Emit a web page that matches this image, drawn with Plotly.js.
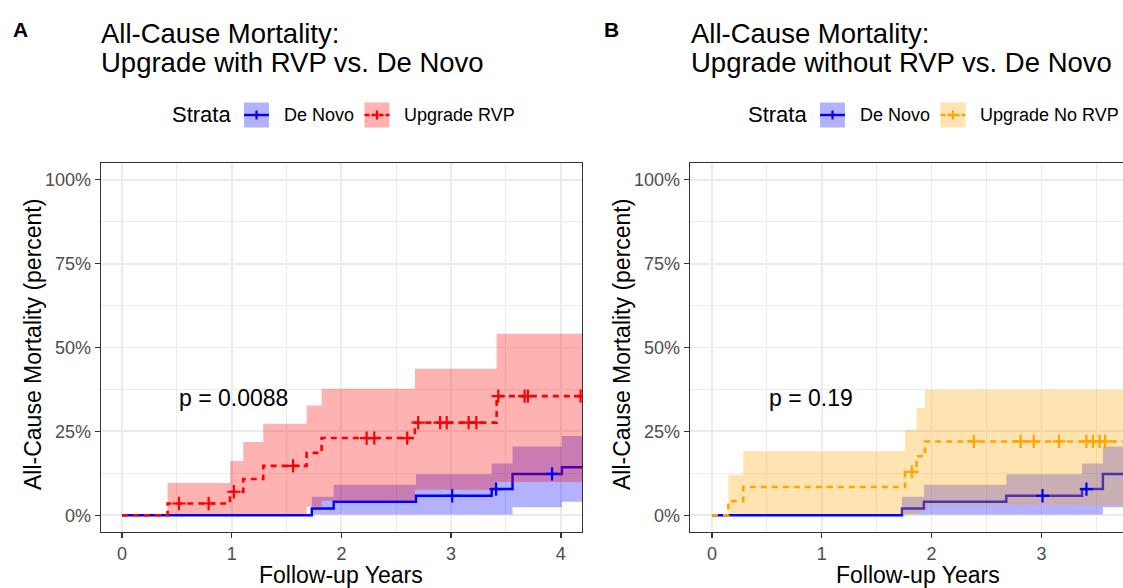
<!DOCTYPE html>
<html><head><meta charset="utf-8">
<script src="https://cdn.plot.ly/plotly-3.0.1.min.js"></script>
<style>html,body{margin:0;padding:0;overflow:hidden;background:#fff}</style>
</head><body><div id="chart" style="width:1123px;height:588px"></div>
<script>
// ---------- data ----------
// De Novo (same group in both panels)
const deNovoTime  = [0, 1.73, 1.93, 2.68, 3.37, 3.56, 4.01, 4.35];
const deNovoEst   = [0, 2.0, 4.0, 5.8, 7.8, 12.3, 14.3, 14.3];
const deNovoUpper = [0, 5.5, 9.1, 12.2, 15.4, 20.5, 23.6, 23.6];
const deNovoLower = [0, 0.2, 0.2, 0.2, 0.2, 2.4, 4.0, 4.0];
const deNovoCensor = [3.01, 3.41, 3.92];

// Upgrade RVP (panel A)
const rvpTime  = [0, 0.416, 0.985, 1.106, 1.288, 1.683, 1.82, 2.67, 3.415, 4.35];
const rvpEst   = [0, 3.5, 7.0, 10.8, 14.7, 18.6, 23.0, 27.6, 35.5, 35.5];
const rvpUpper = [0, 9.6, 16.2, 21.8, 27.3, 32.7, 37.7, 43.7, 54.1, 54.1];
const rvpLower = [0, 0.4, 0.4, 0.4, 0.4, 2.5, 4.3, 7.6, 9.9, 9.9];
const rvpCensor = [0.52, 0.79, 1.02, 1.56, 2.23, 2.30, 2.60, 2.70, 2.90, 2.96, 3.16, 3.23, 3.43, 3.67, 3.70, 4.18];

// Upgrade No RVP (panel B)
const noRvpTime  = [0, 0.149, 0.285, 1.758, 1.864, 1.94, 4.35];
const noRvpEst   = [0, 4.2, 8.4, 12.9, 17.6, 22.0, 22.0];
const noRvpUpper = [0, 12.1, 19.1, 25.5, 32.0, 37.4, 37.4];
const noRvpLower = [0, 0.4, 0.4, 0.4, 1.0, 3.0, 3.0];
const noRvpCensor = [1.82, 2.385, 2.81, 2.93, 3.16, 3.41, 3.47, 3.53, 3.58];

const yTickVals = [0, 25, 50, 75, 100];
const yTickText = ['0%', '25%', '50%', '75%', '100%'];
const xTickVals = [0, 1, 2, 3, 4];
const pValues = ['p = 0.0088', 'p = 0.19'];
const strataA = ['De Novo', 'Upgrade RVP'];
const strataB = ['De Novo', 'Upgrade No RVP'];

// ---------- helpers ----------
const W = 1123, H = 588;
const px = x => x / W;
const py = y => 1 - y / H;
const FONT = 'Liberation Sans, Arial, sans-serif';
const BLUE = '#0000FF', RED = '#FF0000', ORANGE = '#FFA500';
const fillOf = c => ({'#0000FF':'rgba(0,0,255,0.3)','#FF0000':'rgba(255,0,0,0.3)','#FFA500':'rgba(255,165,0,0.3)'})[c];

function stepAt(times, vals, t) {
  let v = vals[0];
  for (let i = 0; i < times.length; i++) if (times[i] <= t) v = vals[i];
  return v;
}
function lineTrace(t, e, color, dash, xa, ya) {
  return {x: t, y: e, mode: 'lines', xaxis: xa, yaxis: ya, hoverinfo: 'skip',
    line: {color: color, width: dash === 'solid' ? 2.4 : 2.6, shape: 'hv', dash: dash}};
}
function ribbonTraces(t, lo, hi, color, xa, ya) {
  return [
    {x: t, y: lo, mode: 'lines', xaxis: xa, yaxis: ya, hoverinfo: 'skip',
     line: {width: 0, shape: 'hv', color: color}},
    {x: t, y: hi, mode: 'lines', xaxis: xa, yaxis: ya, hoverinfo: 'skip', fill: 'tonexty',
     fillcolor: fillOf(color), line: {width: 0, shape: 'hv', color: color}}
  ];
}
function censorTrace(c, t, e, color, xa, ya) {
  return {x: c, y: c.map(v => stepAt(t, e, v)), mode: 'markers', xaxis: xa, yaxis: ya, hoverinfo: 'skip',
    marker: {symbol: 'cross-thin', size: 9.5, color: color, line: {color: color, width: 2.2}}};
}

const traces = [
  // panel A
  lineTrace(deNovoTime, deNovoEst, BLUE, 'solid', 'x', 'y'),
  lineTrace(rvpTime, rvpEst, RED, '6px,5px', 'x', 'y'),
  ...ribbonTraces(deNovoTime, deNovoLower, deNovoUpper, BLUE, 'x', 'y'),
  ...ribbonTraces(rvpTime, rvpLower, rvpUpper, RED, 'x', 'y'),
  censorTrace(deNovoCensor, deNovoTime, deNovoEst, BLUE, 'x', 'y'),
  censorTrace(rvpCensor, rvpTime, rvpEst, RED, 'x', 'y'),
  // panel B
  lineTrace(deNovoTime, deNovoEst, BLUE, 'solid', 'x2', 'y2'),
  lineTrace(noRvpTime, noRvpEst, ORANGE, '6px,5px', 'x2', 'y2'),
  ...ribbonTraces(deNovoTime, deNovoLower, deNovoUpper, BLUE, 'x2', 'y2'),
  ...ribbonTraces(noRvpTime, noRvpLower, noRvpUpper, ORANGE, 'x2', 'y2'),
  censorTrace(deNovoCensor, deNovoTime, deNovoEst, BLUE, 'x2', 'y2'),
  censorTrace(noRvpCensor, noRvpTime, noRvpEst, ORANGE, 'x2', 'y2'),
];

const gridMinorX = {dtick: 0.5, showgrid: true, gridcolor: '#EBEBEB', gridwidth: 1};
const gridMinorY = {dtick: 12.5, showgrid: true, gridcolor: '#EBEBEB', gridwidth: 1};
function xAxis(domain, range, anchor) {
  return {domain: domain, range: range, anchor: anchor, tickmode: 'array', tickvals: xTickVals,
    showgrid: true, gridcolor: '#EBEBEB', gridwidth: 1.8, minor: gridMinorX, zeroline: false,
    showline: true, mirror: true, linecolor: '#333333', linewidth: 1.4,
    ticks: 'outside', ticklen: 5, tickwidth: 1.4, tickcolor: '#333333',
    tickfont: {family: FONT, size: 18, color: '#4D4D4D'}, fixedrange: true};
}
function yAxis(anchor, mirror) {
  return {domain: [py(532), py(163)], range: [-5, 105], anchor: anchor, tickmode: 'array',
    tickvals: yTickVals, ticktext: yTickText,
    showgrid: true, gridcolor: '#EBEBEB', gridwidth: 1.8, minor: gridMinorY, zeroline: false,
    showline: true, mirror: mirror, linecolor: '#333333', linewidth: 1.4,
    ticks: 'outside', ticklen: 5, tickwidth: 1.4, tickcolor: '#333333',
    tickfont: {family: FONT, size: 18, color: '#4D4D4D'}, fixedrange: true};
}

function txt(text, x, y, size, opts) {
  return Object.assign({text: text, x: px(x), y: py(y), xref: 'paper', yref: 'paper',
    showarrow: false, xanchor: 'left', yanchor: 'middle',
    font: {family: FONT, size: size, color: '#000000'}}, opts || {});
}

const annotations = [
  txt('<b>A</b>', 11, 29, 21),
  txt('<b>B</b>', 602, 29, 21),
  txt('All-Cause Mortality:', 99, 33, 27.5),
  txt('Upgrade with RVP vs. De Novo', 99, 62, 27.5),
  txt('All-Cause Mortality:', 689, 33, 27.5),
  txt('Upgrade without RVP vs. De Novo', 689, 62, 27.5),
  // legends
  txt('Strata', 170, 115, 22),
  txt(strataA[0], 282, 115, 18),
  txt(strataA[1], 402, 115, 18),
  txt('Strata', 746, 115, 22),
  txt(strataB[0], 858, 115, 18),
  txt(strataB[1], 978, 115, 18),
  // axis titles
  txt('Follow-up Years', 341, 575, 23, {xanchor: 'center'}),
  txt('Follow-up Years', 918, 575, 23, {xanchor: 'center'}),
  txt('All-Cause Mortality (percent)', 33, 345, 23, {xanchor: 'center', textangle: -90}),
  txt('All-Cause Mortality (percent)', 622, 345, 23, {xanchor: 'center', textangle: -90}),
  // p-values
  {text: pValues[0], x: 0.5, y: 35, xref: 'x', yref: 'y', showarrow: false, xanchor: 'left', yanchor: 'middle',
   font: {family: FONT, size: 23, color: '#000000'}},
  {text: pValues[1], x: 0.5, y: 35, xref: 'x2', yref: 'y2', showarrow: false, xanchor: 'left', yanchor: 'middle',
   font: {family: FONT, size: 23, color: '#000000'}},
];

function legendKey(x0, color, dash) {
  const y0 = 102.5, y1 = 127.5, cx = x0 + 12.5, cy = 115;
  return [
    {type: 'rect', xref: 'paper', yref: 'paper', x0: px(x0), x1: px(x0 + 25), y0: py(y1), y1: py(y0),
     fillcolor: fillOf(color), line: {width: 0}},
    {type: 'line', xref: 'paper', yref: 'paper', x0: px(x0), x1: px(x0 + 25), y0: py(cy), y1: py(cy),
     line: {color: color, width: 2.4, dash: dash}},
    {type: 'line', xref: 'paper', yref: 'paper', x0: px(cx), x1: px(cx), y0: py(cy - 4.5), y1: py(cy + 4.5),
     line: {color: color, width: 2.2}}
  ];
}
const shapes = [
  ...legendKey(244, BLUE, 'solid'), ...legendKey(364.5, RED, '5px,2px'),
  ...legendKey(820, BLUE, 'solid'), ...legendKey(940.5, ORANGE, '5px,2px'),
];

const layout = {
  width: W, height: H, margin: {l: 0, r: 0, t: 0, b: 0},
  paper_bgcolor: '#FFFFFF', plot_bgcolor: '#FFFFFF', showlegend: false,
  font: {family: FONT},
  xaxis: xAxis([px(101), px(582)], [-0.191, 4.193], 'y'),
  yaxis: yAxis('x', true),
  xaxis2: xAxis([px(690), 1], [-0.2, 3.743], 'y2'),
  yaxis2: yAxis('x2', false),
  annotations: annotations, shapes: shapes
};
Plotly.newPlot('chart', traces, layout, {displayModeBar: false, staticPlot: true});
</script></body></html>
